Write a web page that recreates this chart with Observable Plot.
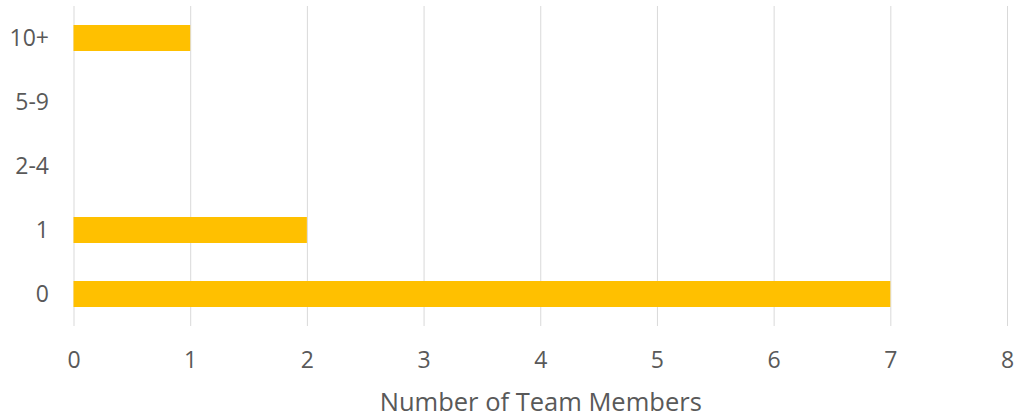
<!DOCTYPE html>
<html>
<head>
<meta charset="utf-8">
<script src="https://cdn.jsdelivr.net/npm/d3@7"></script>
<script src="https://cdn.jsdelivr.net/npm/@observablehq/plot@0.6"></script>
<style>
  html, body { margin: 0; padding: 0; background: #fff; }
  #chart svg { display: block; }
</style>
</head>
<body>
<div id="chart"></div>
<script>
const categories = ["0", "1", "2-4", "5-9", "10+"];
const values = [7, 2, 0, 0, 1];
const xTicks = [0, 1, 2, 3, 4, 5, 6, 7, 8];
const xLabel = "Number of Team Members";

const data = categories.map((c, i) => ({category: c, value: values[i]}));

const chart = Plot.plot({
  width: 1016,
  height: 417,
  marginLeft: 73.5,
  marginRight: 9,
  marginTop: 6,
  marginBottom: 91,
  style: {fontFamily: "'Open Sans', sans-serif", color: "#595959", background: "#fff"},
  x: {domain: [0, 8], ticks: xTicks, label: null},
  y: {domain: categories.slice().reverse(), paddingInner: 0.6, paddingOuter: 0.3, label: null},
  marks: [
    Plot.gridX(xTicks, {stroke: "#d9d9d9", strokeOpacity: 1, strokeWidth: 1}),
    Plot.barX(data, {y: "category", x: "value", fill: "#FFC000"}),
    Plot.axisX(xTicks, {tickSize: 0, tickPadding: 25, fontSize: 23, fill: "#595959", tickFormat: "d", label: null}),
    Plot.axisY({tickSize: 0, tickPadding: 25, fontSize: 23, fill: "#595959", label: null}),
    Plot.text([xLabel], {frameAnchor: "bottom", dy: 76, lineAnchor: "middle", fontSize: 25.5, fill: "#595959", text: d => d})
  ]
});
document.getElementById("chart").appendChild(chart);
</script>
</body>
</html>
